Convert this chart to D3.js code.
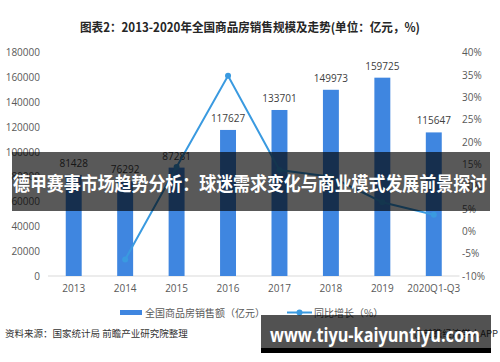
<!DOCTYPE html>
<html>
<head>
<meta charset="utf-8">
<script src="https://cdn.jsdelivr.net/npm/d3@7"></script>
<style>
  body { margin: 0; background: #fff; }
  svg text { font-family: "Noto Sans CJK SC", "Microsoft YaHei", sans-serif; }
</style>
</head>
<body>
<svg id="chart" width="500" height="362"></svg>
<script>
var years = ["2013", "2014", "2015", "2016", "2017", "2018", "2019", "2020Q1-Q3"];
var sales = [81428, 76292, 87281, 117627, 133701, 149973, 159725, 115647];
// 2013 has no growth point in the picture
var growth = [null, -6.3, 14.4, 34.8, 13.7, 12.2, 6.5, 3.7];
var leftTicks = [0, 20000, 40000, 60000, 80000, 100000, 120000, 140000, 160000, 180000];
var rightTicks = [-10, -5, 0, 5, 10, 15, 20, 25, 30, 35, 40];

(function() {
  var svg = d3.select("#chart");
  var m = { left: 48, right: 459.5, top: 52.5, bottom: 276 };
  var numFont = "'Open Sans', 'Noto Sans', sans-serif";

  var x = d3.scaleBand().domain(years).range([m.left, m.right]).paddingInner(0.69).paddingOuter(0.345);
  var yL = d3.scaleLinear().domain([0, 180000]).range([m.bottom, m.top]);
  var yR = d3.scaleLinear().domain([-10, 40]).range([m.bottom, m.top]);

  // title
  svg.append("text")
    .attr("x", 250).attr("y", 32)
    .attr("text-anchor", "middle")
    .attr("font-size", 12.5).attr("font-weight", "bold").attr("fill", "#262626")
    .attr("textLength", 340).attr("lengthAdjust", "spacingAndGlyphs")
    .text("图表2：2013-2020年全国商品房销售规模及走势(单位：亿元，%)");

  // left axis
  var gl = svg.append("g").attr("transform", "translate(40,0)")
    .call(d3.axisLeft(yL).tickValues(leftTicks).tickSize(0).tickPadding(0).tickFormat(d3.format("d")));
  gl.select(".domain").remove();
  gl.selectAll("text").attr("font-size", 10).attr("fill", "#595959").style("font-family", numFont);

  // right axis
  var gr = svg.append("g").attr("transform", "translate(462,0)")
    .call(d3.axisRight(yR).tickValues(rightTicks).tickSize(0).tickPadding(0)
      .tickFormat(function(d) { return d + "%"; }));
  gr.select(".domain").remove();
  gr.selectAll("text").attr("font-size", 10).attr("fill", "#595959").style("font-family", numFont);

  // baseline
  svg.append("line")
    .attr("x1", m.left).attr("x2", m.right).attr("y1", m.bottom).attr("y2", m.bottom)
    .attr("stroke", "#d9d9d9").attr("stroke-width", 1);

  // x labels
  var gx = svg.append("g").attr("transform", "translate(0," + m.bottom + ")")
    .call(d3.axisBottom(x).tickSize(0).tickPadding(9));
  gx.select(".domain").remove();
  gx.selectAll("text").attr("font-size", 10).attr("fill", "#595959").style("font-family", numFont);

  // bars
  svg.append("g").selectAll("rect").data(sales).enter().append("rect")
    .attr("x", function(d, i) { return x(years[i]); })
    .attr("width", x.bandwidth())
    .attr("y", function(d) { return yL(d); })
    .attr("height", function(d) { return m.bottom - yL(d); })
    .attr("fill", "#3f86e0");

  svg.append("g").selectAll("text").data(sales).enter().append("text")
    .attr("x", function(d, i) { return x(years[i]) + x.bandwidth() / 2; })
    .attr("y", function(d) { return yL(d) - 8; })
    .attr("text-anchor", "middle")
    .attr("font-size", 10).attr("fill", "#404040").style("font-family", numFont)
    .text(function(d) { return d; });

  // growth line
  var pts = growth.map(function(g, i) { return { year: years[i], g: g }; })
    .filter(function(p) { return p.g !== null; });
  var line = d3.line()
    .x(function(p) { return x(p.year) + x.bandwidth() / 2; })
    .y(function(p) { return yR(p.g); });
  svg.append("path").datum(pts)
    .attr("d", line).attr("fill", "none")
    .attr("stroke", "#3a9ae0").attr("stroke-width", 2);
  svg.append("g").selectAll("circle").data(pts).enter().append("circle")
    .attr("cx", function(p) { return x(p.year) + x.bandwidth() / 2; })
    .attr("cy", function(p) { return yR(p.g); })
    .attr("r", 3).attr("fill", "#3a9ae0");

  // legend
  var lg = svg.append("g").attr("font-size", 10).attr("fill", "#595959");
  lg.append("rect").attr("x", 120).attr("y", 310).attr("width", 22).attr("height", 5).attr("fill", "#3f86e0");
  lg.append("text").attr("x", 145).attr("y", 317).text("全国商品房销售额（亿元）");
  lg.append("line").attr("x1", 287).attr("x2", 312).attr("y1", 312.5).attr("y2", 312.5)
    .attr("stroke", "#3a9ae0").attr("stroke-width", 2);
  lg.append("circle").attr("cx", 299.5).attr("cy", 312.5).attr("r", 3).attr("fill", "#3a9ae0");
  lg.append("text").attr("x", 314).attr("y", 317).text("同比增长（%）");

  // source
  svg.append("text").attr("x", 5).attr("y", 337)
    .attr("font-size", 9.5).attr("fill", "#333")
    .text("资料来源：国家统计局 前瞻产业研究院整理");
  svg.append("text").attr("x", 498).attr("y", 337).attr("text-anchor", "end")
    .attr("font-size", 9.5).attr("fill", "#333")
    .text("@前瞻经济学人APP");

  // overlay banner
  svg.append("rect").attr("x", 12).attr("y", 152).attr("width", 478).attr("height", 59)
    .attr("fill", "#000").attr("fill-opacity", 0.65);
  svg.append("text").attr("x", 13).attr("y", 191)
    .attr("font-size", 19).attr("font-weight", "bold").attr("fill", "#fff")
    .attr("textLength", 474).attr("lengthAdjust", "spacingAndGlyphs")
    .text("德甲赛事市场趋势分析：球迷需求变化与商业模式发展前景探讨");

  // bottom watermark box
  svg.append("rect").attr("x", 261).attr("y", 315).attr("width", 230).attr("height", 38)
    .attr("fill", "#000").attr("fill-opacity", 0.68);
  svg.append("rect").attr("x", 261).attr("y", 348).attr("width", 230).attr("height", 5)
    .attr("fill", "#000");
  svg.append("text").attr("x", 270).attr("y", 342)
    .attr("font-size", 19).attr("font-weight", "bold").attr("fill", "#fff")
    .attr("textLength", 210).attr("lengthAdjust", "spacingAndGlyphs")
    .style("font-family", numFont)
    .text("www.tiyu-kaiyuntiyu.com");
})();
</script>
</body>
</html>
